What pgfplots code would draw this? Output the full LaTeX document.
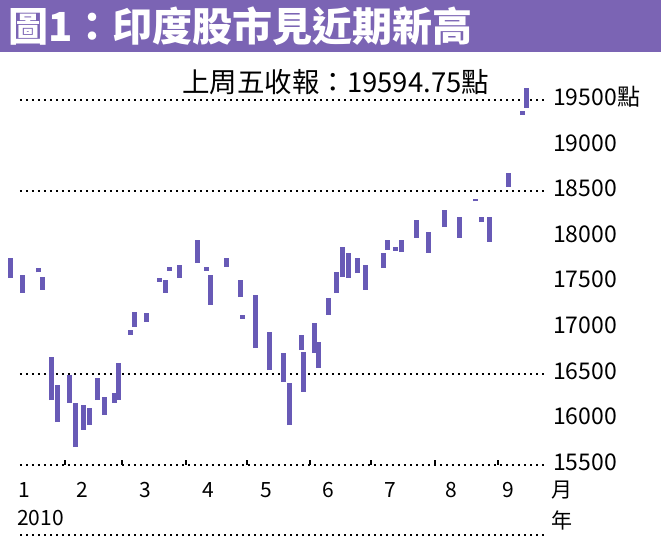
\documentclass[border=0pt]{standalone}
\usepackage{fontspec}
\usepackage{pgfplots}
\usepackage{pgfplotstable}
\pgfplotsset{compat=1.18}
\setmainfont{Noto Sans CJK TC}
\newfontfamily\cjk{Noto Sans CJK TC}
\definecolor{banner}{RGB}{123,100,180}
\definecolor{barc}{RGB}{104,90,182}

% day of year, low, high (BSE Sensex, 2010)
\pgfplotstableread{
doy low high
5 17550 17769
11 17385 17582
19 17610 17660
21 17418 17560
25 16212 16684
28 15971 16377
34 16180 16486
37 15697 16180
41 15884 16158
44 15938 16125
48 16212 16454
51 16048 16245
56 16180 16289
58 16212 16618
64 16930 16980
66 17012 17177
72 17067 17166
78 17510 17545
81 17385 17528
83 17630 17665
88 17550 17692
97 17714 17966
101 17630 17665
103 17254 17582
111 17670 17769
118 17341 17528
119 17105 17140
125 16782 17363
132 16541 16958
139 16410 16727
142 15938 16399
148 16760 16925
149 16300 16738
154 16727 17056
156 16563 16848
161 17144 17330
165 17385 17615
168 17560 17889
171 17550 17824
175 17604 17769
179 17418 17692
188 17659 17824
190 17856 17966
194 17850 17885
197 17834 17966
204 17988 18185
210 17824 18054
218 18108 18295
225 17988 18218
233 18390 18420
236 18163 18218
240 17944 18218
249 18547 18700
256 19340 19375
258 19413 19632
}\sensex

\begin{document}
\begin{tikzpicture}[x=1pt, y=1pt]
\path[use as bounding box] (0,-75) rectangle (661,465);
\fill[banner] (0,413) rectangle (661,465);
\node[anchor=west, text=white, font=\cjk\bfseries\fontsize{40}{40}\selectfont, inner sep=0pt] at (8,439) {圖1：印度股市見近期新高};

\begin{axis}[
    at={(0pt,0pt)}, anchor=south west,
    scale only axis,
    width=548pt, height=392pt,
    xmin=0, xmax=268.6,
    ymin=15500, ymax=19796,
    axis line style={draw=none},
    ticks=none,
    clip=false,
]
  \foreach \v in {15500,16500,18500,19500}{
    \edef\tmp{\noexpand\draw[black, line width=2.4pt, dash pattern=on 2.4pt off 3.6pt]
      (axis cs:9.8,\v) -- (axis cs:268,\v);}
    \tmp
  }
  \addplot[only marks, mark=*, mark size=0pt, mark options={draw opacity=0, fill opacity=0},
    error bars/.cd, y dir=plus, y explicit, error mark=none,
    error bar style={draw=barc, line width=5pt}]
    table[x=doy, y=low, y error plus expr=\thisrow{high}-\thisrow{low}] {\sensex};
\end{axis}

% month ticks on the base line
\foreach \x in {65,122,186,247,310,371,435,498}{
  \draw[black, line width=1.6pt] (\x,0) -- (\x,5);
}
% bottom rule
\draw[black, line width=2.4pt, dash pattern=on 2.4pt off 3.6pt] (20,-70) -- (547,-70);

% right-hand value labels
\begin{scope}[every node/.style={anchor=west, inner sep=0pt, font=\cjk\fontsize{23}{23}\selectfont}]
  \node at (553,368) {19500點};
  \node at (553,322) {19000};
  \node at (553,277) {18500};
  \node at (553,231) {18000};
  \node at (553,186) {17500};
  \node at (553,140) {17000};
  \node at (553,94) {16500};
  \node at (553,49) {16000};
  \node at (553,3) {15500};
\end{scope}

% month labels
\begin{scope}[every node/.style={inner sep=0pt, font=\cjk\fontsize{21}{21}\selectfont}]
  \node at (24,-25) {1};
  \node at (82,-25) {2};
  \node at (145,-25) {3};
  \node at (208,-25) {4};
  \node at (266,-25) {5};
  \node at (328,-25) {6};
  \node at (390,-25) {7};
  \node at (451,-25) {8};
  \node at (508,-25) {9};
  \node at (562,-25) {月};
  \node[anchor=west] at (17,-53) {2010};
  \node at (562,-55) {年};
\end{scope}

% annotation
\node[anchor=west, inner sep=0pt, font=\cjk\fontsize{27.5}{27.5}\selectfont] at (182,383) {上周五收報：19594.75點};
\end{tikzpicture}
\end{document}
